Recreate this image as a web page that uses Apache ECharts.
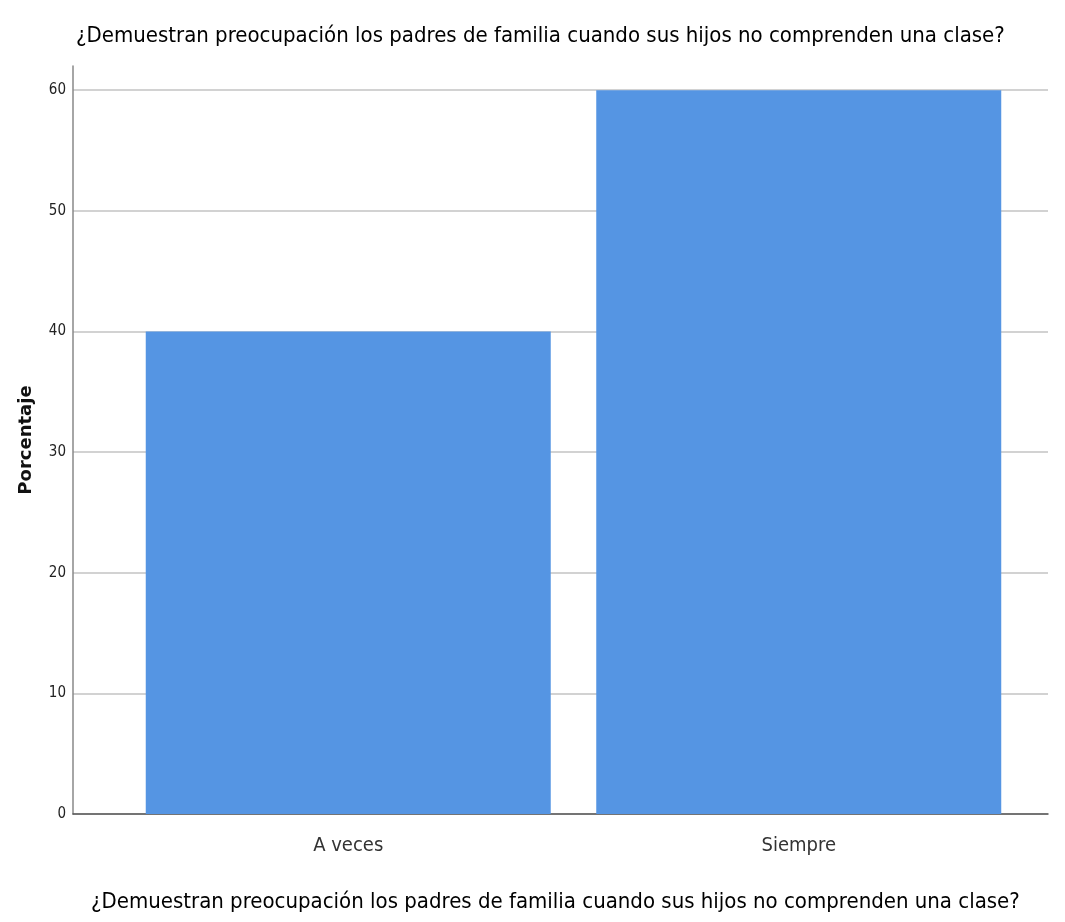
<!DOCTYPE html>
<html><head><meta charset="utf-8">
<script src="https://cdn.jsdelivr.net/npm/echarts@6/dist/echarts.min.js"></script>
<style>html,body{margin:0;padding:0;background:#fff}#c{width:1065px;height:922px}</style>
</head><body><div id="c"></div>
<script>
const titleText = '¿Demuestran preocupación los padres de familia cuando sus hijos no comprenden una clase?';
const categories = ['A veces', 'Siempre'];
const percentages = [40, 60];
const yAxisName = 'Porcentaje';
const yMin = 0, yMax = 62, yInterval = 10;

const narrow = '"Liberation Sans Narrow", "Arial Narrow", "DejaVu Sans Condensed", sans-serif';
const chart = echarts.init(document.getElementById('c'), null, {renderer: 'canvas'});
chart.setOption({
  animation: false,
  backgroundColor: '#fff',
  title: [
    {text: titleText, left: 71, top: 20, textStyle: {fontFamily: narrow, fontSize: 22, fontWeight: 'normal', color: '#000'}},
    {text: titleText, left: 86, top: 886, textStyle: {fontFamily: narrow, fontSize: 22, fontWeight: 'normal', color: '#000'}}
  ],
  grid: [
    {left: 73, right: 17, top: 66, bottom: 108},
    {left: 123, right: 41, top: 66, bottom: 108}
  ],
  xAxis: [
    {type: 'category', gridIndex: 0, data: categories, boundaryGap: true,
     axisLine: {show: true, lineStyle: {color: '#555', width: 1.5}}, axisTick: {show: false}, axisLabel: {show: false}, splitLine: {show: false}},
    {type: 'category', gridIndex: 1, data: categories, boundaryGap: true,
     axisLine: {show: false}, axisTick: {show: false},
     axisLabel: {show: true, margin: 22, fontFamily: narrow, fontSize: 20, color: '#333'}}
  ],
  yAxis: [
    {type: 'value', gridIndex: 0, min: yMin, max: yMax, interval: yInterval,
     name: yAxisName, nameLocation: 'middle', nameGap: 38, nameRotate: 90,
     nameTextStyle: {fontFamily: '"DejaVu Sans", sans-serif', fontSize: 18, fontWeight: 'bold', color: '#111'},
     axisLine: {show: true, lineStyle: {color: '#888', width: 1.5}}, axisTick: {show: false},
     axisLabel: {showMaxLabel: false, margin: 7, fontFamily: narrow, fontSize: 15, color: '#222'},
     splitLine: {show: true, showMaxLine: false, lineStyle: {color: '#d2d2d2', width: 2}}},
    {type: 'value', gridIndex: 1, min: yMin, max: yMax, interval: yInterval, show: false, splitLine: {show: false}}
  ],
  series: [{
    type: 'bar', xAxisIndex: 1, yAxisIndex: 1, data: percentages,
    barCategoryGap: '10.1%',
    itemStyle: {color: '#5595e3'}
  }]
});
</script></body></html>
